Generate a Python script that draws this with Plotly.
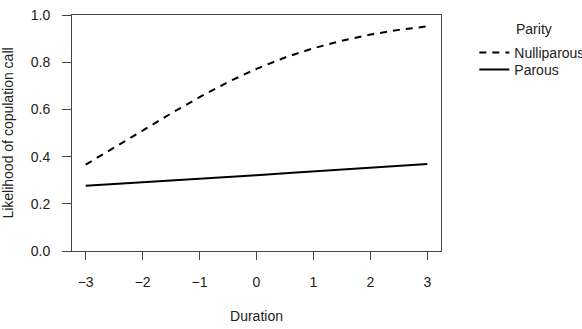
import plotly.graph_objects as go

duration = [-3, -2.5, -2, -1.5, -1, -0.5, 0, 0.5, 1, 1.5, 2, 2.5, 3]
nulliparous = [0.366, 0.437, 0.510, 0.583, 0.652, 0.716, 0.772, 0.820, 0.859, 0.891, 0.917, 0.937, 0.952]
parous = [0.276, 0.283, 0.290, 0.297, 0.305, 0.313, 0.321, 0.329, 0.337, 0.345, 0.353, 0.361, 0.369]

x_ticks = [-3, -2, -1, 0, 1, 2, 3]
y_ticks = [0.0, 0.2, 0.4, 0.6, 0.8, 1.0]
y_tick_labels = ["0.0", "0.2", "0.4", "0.6", "0.8", "1.0"]

font = "Liberation Sans, Arial, Helvetica, sans-serif"

fig = go.Figure()
fig.add_trace(go.Scatter(x=duration, y=nulliparous, mode="lines", name="Nulliparous",
                         legend="legend",
                         line=dict(color="black", width=2, dash="7px,6px")))
fig.add_trace(go.Scatter(x=duration, y=parous, mode="lines", name="Parous",
                         legend="legend2",
                         line=dict(color="black", width=2)))

leg_common = dict(xref="container", yref="container", xanchor="left", yanchor="top",
                  bgcolor="rgba(0,0,0,0)", font=dict(size=14), itemwidth=30)

fig.update_layout(
    width=582, height=329,
    margin=dict(l=72, r=141, t=15, b=78, autoexpand=False),
    paper_bgcolor="white", plot_bgcolor="white",
    font=dict(family=font, size=14, color="#222"),
    showlegend=True,
    legend=dict(x=0.815, y=0.8875, **leg_common),
    legend2=dict(x=0.815, y=0.836, **leg_common),
    annotations=[dict(text="Parity", xref="paper", yref="paper", x=1.198, y=0.941,
                      xanchor="left", yanchor="middle", showarrow=False,
                      font=dict(size=14))],
    xaxis=dict(
        range=[-3.24, 3.24], tickvals=x_ticks, ticks="outside", ticklen=8,
        tickcolor="#444", showline=True, linecolor="#444", linewidth=1, mirror=True,
        showgrid=False, zeroline=False, ticklabelstandoff=10, automargin=False,
        tickfont=dict(size=14),
        title=dict(text="Duration", standoff=22, font=dict(size=14)),
    ),
    yaxis=dict(
        range=[0, 1], tickvals=y_ticks, ticktext=y_tick_labels, ticks="outside", ticklen=9,
        tickcolor="#444", showline=True, linecolor="#444", linewidth=1, mirror=True,
        showgrid=False, zeroline=False, ticklabelstandoff=9, automargin=False,
        tickfont=dict(size=14),
        title=dict(text="Likelihood of copulation call", standoff=13, font=dict(size=14)),
    ),
)

fig.write_html("out.html")
